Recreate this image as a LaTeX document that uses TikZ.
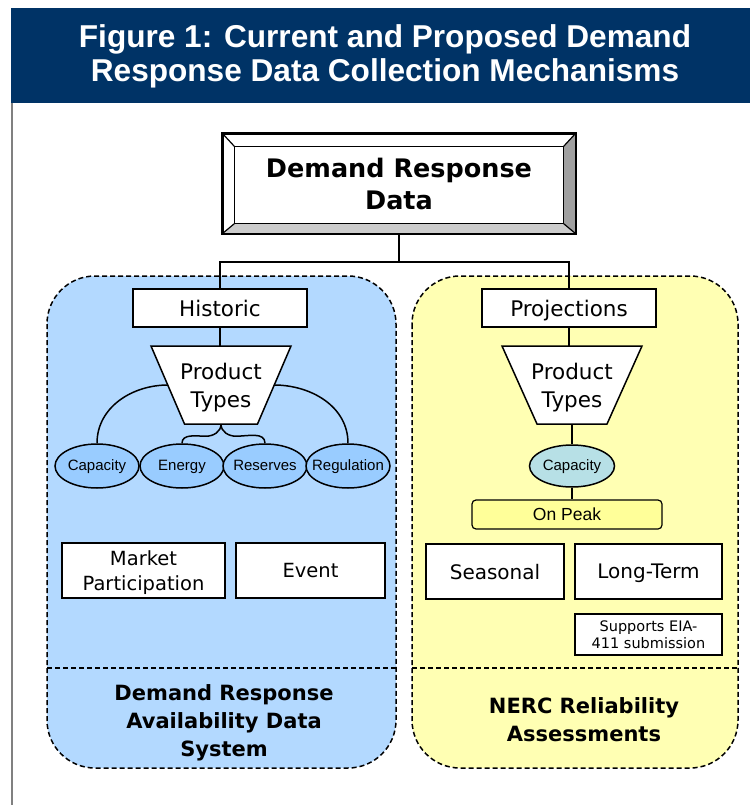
\documentclass[tikz,border=0pt]{standalone}
\usepackage{fontspec}
\setmainfont{DejaVu Sans}
\newfontfamily\arialf{Liberation Sans}
\usetikzlibrary{shapes.geometric,calc}
\definecolor{banner}{RGB}{0,51,102}
\definecolor{bluepanel}{RGB}{179,217,255}
\definecolor{blueell}{RGB}{153,204,255}
\definecolor{yellowpanel}{RGB}{255,255,179}
\definecolor{onpeakc}{RGB}{255,255,153}
\definecolor{tealell}{RGB}{183,224,230}
\definecolor{bevdark}{RGB}{160,160,160}
\definecolor{bevlight}{RGB}{204,204,204}
\begin{document}
\begin{tikzpicture}[x=1pt,y=-1pt,
  panel/.style={draw=black, line width=1.5pt, dash pattern=on 5pt off 3pt, rounded corners=48pt},
  divider/.style={draw=black, line width=1.5pt, dash pattern=on 5pt off 3pt},
  conn/.style={draw=black, line width=1.5pt},
  wbox/.style={draw=black, fill=white, line width=1.8pt, inner sep=0pt, align=center, text depth=0pt, font=\fontsize{19.5}{25}\selectfont},
  ell/.style={ellipse, draw=black, line width=1.5pt, inner sep=0pt, minimum width=84pt, minimum height=44pt, text height=11pt, text depth=2pt, font=\arialf\fontsize{15}{18}\selectfont},
  trap/.style={draw=black, fill=white, line width=1.5pt},
  traptxt/.style={inner sep=0pt, align=center, font=\fontsize{21.5}{28}\selectfont},
  bottomlbl/.style={inner sep=0pt, align=center, font=\bfseries\fontsize{21}{28}\selectfont},
]
\useasboundingbox (0,0) rectangle (750,805);
% frame and banner
\draw[gray, line width=2pt] (12,17) -- (12,805);
\fill[banner] (11,8) rectangle (750,103);
\node[text=white, inner sep=0pt, align=center, font=\arialf\bfseries\fontsize{31.6}{34}\selectfont] (title) at (385,56) {Figure 1: Current and Proposed Demand\\Response Data Collection Mechanisms};

% panels
\draw[panel, fill=bluepanel] (47,276) rectangle (396,768);
\draw[panel, fill=yellowpanel] (412,276) rectangle (738,768);
\draw[divider] (47,668) -- (396,668);
\draw[divider] (412,668) -- (738,668);

% top bevel box
\node[draw=black, fill=white, line width=1.5pt, minimum width=352pt, minimum height=99pt, inner sep=0pt, align=center, font=\bfseries\fontsize{25.5}{32}\selectfont] (drd) at (399,183.5) {Demand Response\\Data};
\coordinate (i1) at ($(drd.north west)+(12,13)$);
\coordinate (i2) at ($(drd.north east)+(-12,13)$);
\coordinate (i3) at ($(drd.south east)+(-12,-10)$);
\coordinate (i4) at ($(drd.south west)+(12,-10)$);
\fill[bevdark] (drd.north east) -- (drd.south east) -- (i3) -- (i2) -- cycle;
\fill[bevlight] (drd.south west) -- (drd.south east) -- (i3) -- (i4) -- cycle;
\draw[line width=1.2pt] (i1) rectangle (i3);
\draw[line width=1.2pt] (drd.north west) -- (i1) (drd.north east) -- (i2) (drd.south east) -- (i3) (drd.south west) -- (i4);
\draw[line width=1.8pt] (drd.north west) rectangle (drd.south east);

% left panel contents
\node[wbox, minimum width=174pt, minimum height=38pt, font=\fontsize{21.5}{26}\selectfont] (hist) at (220,308) {Historic};
\coordinate (pc1) at (221,385);
\draw[trap] ($(pc1)+(-70,-39)$) -- ($(pc1)+(70,-39)$) -- ($(pc1)+(36.5,39)$) -- ($(pc1)+(-36.5,39)$) -- cycle;
\node[inner sep=0pt, minimum width=140pt, minimum height=78pt] (pt1) at (pc1) {};
\node[traptxt] (pt1t) at (221,388) {Product\\Types};

\node[ell, fill=blueell] (capl) at (97,466) {\makebox[0pt]{Capacity}};
\node[ell, fill=blueell] (en) at (182,466) {\makebox[0pt]{Energy}};
\node[ell, fill=blueell] (res) at (265,466) {\makebox[0pt]{Reserves}};
\node[ell, fill=blueell] (reg) at (348,466) {\makebox[0pt]{Regulation}};

\node[wbox, minimum width=163pt, minimum height=55pt] (mkt) at (143.5,570.5) {Market\\Participation};
\node[wbox, minimum width=149pt, minimum height=55pt] (evt) at (310.5,570.5) {Event};

\node[bottomlbl] (lbl1) at (224,723) {Demand Response\\Availability Data\\System};

% right panel contents
\node[wbox, minimum width=174pt, minimum height=38pt, font=\fontsize{21.5}{26}\selectfont] (proj) at (569,308) {Projections};
\coordinate (pc2) at (572,385);
\draw[trap] ($(pc2)+(-70,-39)$) -- ($(pc2)+(70,-39)$) -- ($(pc2)+(35,39)$) -- ($(pc2)+(-35,39)$) -- cycle;
\node[inner sep=0pt, minimum width=140pt, minimum height=78pt] (pt2) at (pc2) {};
\node[traptxt] (pt2t) at (572,388) {Product\\Types};

\node[ell, fill=tealell, minimum width=85pt, minimum height=42pt] (capr) at (572,466) {\makebox[0pt]{Capacity}};
\node[wbox, fill=onpeakc, rounded corners=4pt, line width=1.2pt, minimum width=190pt, minimum height=29pt, font=\arialf\fontsize{17.5}{20}\selectfont] (onpk) at (567,514.5) {On Peak};

\node[wbox, minimum width=138pt, minimum height=55pt, font=\fontsize{20}{25}\selectfont] (seas) at (495,571.5) {Seasonal};
\node[wbox, minimum width=147pt, minimum height=55pt, font=\fontsize{20}{25}\selectfont] (lt) at (648.5,571.5) {Long-Term};
\node[wbox, minimum width=147pt, minimum height=41pt, font=\fontsize{14.5}{16.5}\selectfont] (sup) at (648.5,634.5) {Supports EIA-\\411 submission};

\node[bottomlbl] (lbl2) at (584,720) {NERC Reliability\\Assessments};

% connectors
\coordinate (junc) at ($(drd.south)+(0,28)$);
\draw[conn] (drd.south) -- (junc);
\draw[conn] (hist.north) |- (junc) -| (proj.north);
\draw[conn] (hist.south) -- (hist.south |- pt1.north);
\draw[conn] (proj.south) -- (proj.south |- pt2.north);
\draw[conn] ($(pt1.west)+(17.25,0)$) to[out=180,in=90] (capl.north);
\draw[conn] ($(pt1.east)+(-17.25,0)$) to[out=0,in=90] (reg.north);
\draw[conn] (pt1.south) to[out=-90,in=0] ++(-15,12) to[out=180,in=90] (en.north);
\draw[conn] (pt1.south) to[out=-90,in=180] ++(15,12) to[out=0,in=90] (res.north);
\draw[conn] (pt2.south) -- (capr.north);
\draw[conn] (capr.south) -- (capr.south |- onpk.north);
\end{tikzpicture}
\end{document}
